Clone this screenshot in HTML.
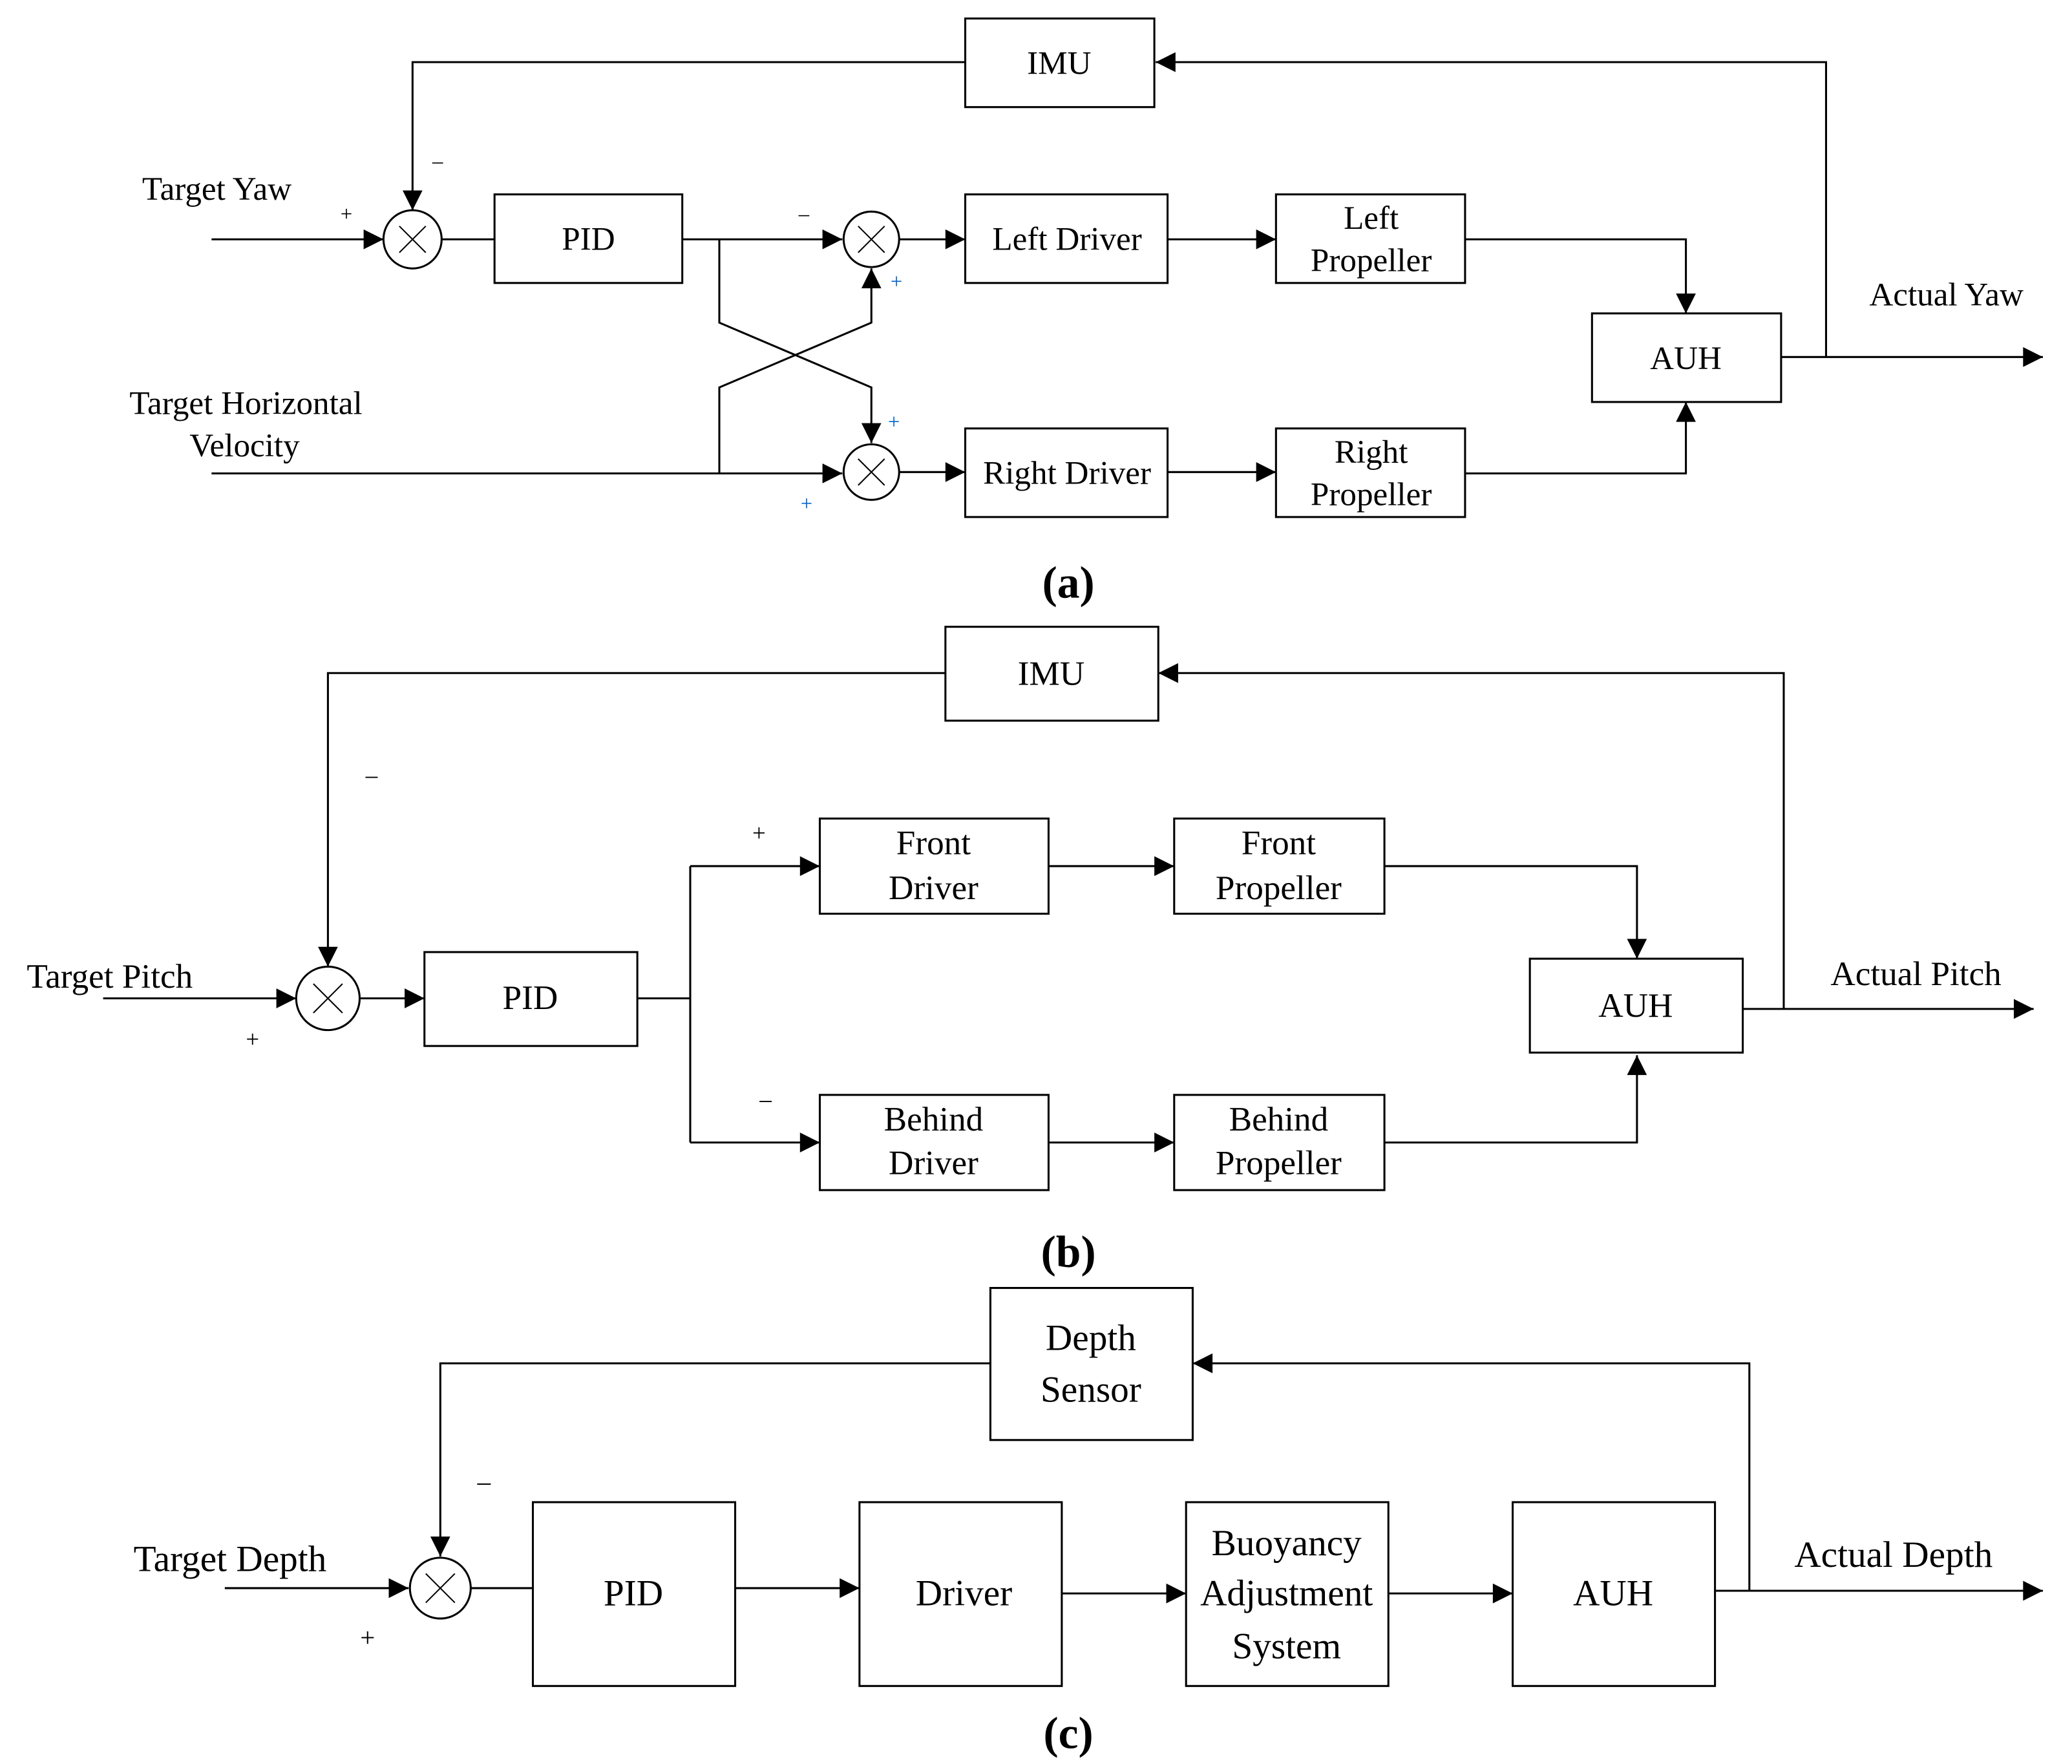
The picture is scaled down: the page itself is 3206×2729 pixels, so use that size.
<!DOCTYPE html>
<html><head><meta charset="utf-8"><style>html,body{margin:0;padding:0;background:#fff}svg{display:block}</style></head><body>
<svg width="3206" height="2729" viewBox="0 0 1567 1334" preserveAspectRatio="none" xmlns="http://www.w3.org/2000/svg" font-family="Liberation Serif, serif">
<defs><marker id="a" viewBox="0 0 10 10" refX="10" refY="5" markerWidth="11" markerHeight="11" markerUnits="userSpaceOnUse" orient="auto"><path d="M0,0L10,5L0,10z" fill="#000"/></marker>
<marker id="b" viewBox="0 0 10 10" refX="10" refY="5" markerWidth="16" markerHeight="15" markerUnits="userSpaceOnUse" orient="auto"><path d="M0,0L10,5L0,10z" fill="#000"/></marker></defs>
<g fill="none" stroke="#000" stroke-width="1.5">
<rect x="730" y="14" width="143" height="67" fill="#fff"/>
<polyline points="730,47 312,47 312,159" marker-end="url(#b)"/>
<polyline points="1381,270 1381,47 874,47" marker-end="url(#b)"/>
<circle cx="312" cy="181" r="22"/>
<line x1="160" y1="181" x2="290" y2="181" marker-end="url(#b)"/>
<line x1="334" y1="181" x2="374" y2="181"/>
<rect x="374" y="147" width="142" height="67"/>
<line x1="516" y1="181" x2="637" y2="181" marker-end="url(#b)"/>
<circle cx="659" cy="181" r="21"/>
<line x1="680" y1="181" x2="730" y2="181" marker-end="url(#b)"/>
<rect x="730" y="147" width="153" height="67"/>
<line x1="883" y1="181" x2="965" y2="181" marker-end="url(#b)"/>
<rect x="965" y="147" width="143" height="67"/>
<polyline points="1108,181 1275,181 1275,237" marker-end="url(#b)"/>
<rect x="1204" y="237" width="143" height="67"/>
<line x1="1347" y1="270" x2="1545" y2="270" marker-end="url(#b)"/>
<polyline points="544,181 544,244 659,293 659,335" marker-end="url(#b)"/>
<polyline points="544,358 544,293 659,244 659,203" marker-end="url(#b)"/>
<line x1="160" y1="358" x2="637" y2="358" marker-end="url(#b)"/>
<circle cx="659" cy="357" r="21"/>
<line x1="680" y1="357" x2="730" y2="357" marker-end="url(#b)"/>
<rect x="730" y="324" width="153" height="67"/>
<line x1="883" y1="357" x2="965" y2="357" marker-end="url(#b)"/>
<rect x="965" y="324" width="143" height="67"/>
<polyline points="1108,358 1275,358 1275,304" marker-end="url(#b)"/>
<path d="M302,171l20,20M322,171l-20,20M649,171l20,20M669,171l-20,20M649,347l20,20M669,347l-20,20" stroke-width="1"/>
<rect x="715" y="474" width="161" height="71"/>
<polyline points="715,509 248,509 248,731" marker-end="url(#b)"/>
<polyline points="1349,763 1349,509 876,509" marker-end="url(#b)"/>
<circle cx="248" cy="755" r="24"/>
<path d="M237,744l22,22M259,744l-22,22" stroke-width="1"/>
<line x1="78" y1="755" x2="224" y2="755" marker-end="url(#b)"/>
<line x1="272" y1="755" x2="321" y2="755" marker-end="url(#b)"/>
<rect x="321" y="720" width="161" height="71"/>
<line x1="482" y1="755" x2="522" y2="755"/>
<polyline points="522,655 522,864"/>
<line x1="522" y1="655" x2="620" y2="655" marker-end="url(#b)"/>
<line x1="522" y1="864" x2="620" y2="864" marker-end="url(#b)"/>
<rect x="620" y="619" width="173" height="72"/>
<line x1="793" y1="655" x2="888" y2="655" marker-end="url(#b)"/>
<rect x="888" y="619" width="159" height="72"/>
<polyline points="1047,655 1238,655 1238,725" marker-end="url(#b)"/>
<rect x="1157" y="725" width="161" height="71"/>
<line x1="1318" y1="763" x2="1538" y2="763" marker-end="url(#b)"/>
<rect x="620" y="828" width="173" height="72"/>
<line x1="793" y1="864" x2="888" y2="864" marker-end="url(#b)"/>
<rect x="888" y="828" width="159" height="72"/>
<polyline points="1047,864 1238,864 1238,798" marker-end="url(#b)"/>
<rect x="749" y="974" width="153" height="115"/>
<polyline points="749,1031 333,1031 333,1177" marker-end="url(#b)"/>
<polyline points="1323,1203 1323,1031 902,1031" marker-end="url(#b)"/>
<circle cx="333" cy="1201" r="23"/>
<path d="M322,1190l22,22M344,1190l-22,22" stroke-width="1"/>
<line x1="170" y1="1201" x2="309" y2="1201" marker-end="url(#b)"/>
<line x1="356" y1="1201" x2="403" y2="1201"/>
<rect x="403" y="1136" width="153" height="139"/>
<line x1="556" y1="1201" x2="650" y2="1201" marker-end="url(#b)"/>
<rect x="650" y="1136" width="153" height="139"/>
<line x1="803" y1="1205" x2="897" y2="1205" marker-end="url(#b)"/>
<rect x="897" y="1136" width="153" height="139"/>
<line x1="1050" y1="1205" x2="1144" y2="1205" marker-end="url(#b)"/>
<rect x="1144" y="1136" width="153" height="139"/>
<line x1="1297" y1="1203" x2="1545" y2="1203" marker-end="url(#b)"/>
</g>
<g font-size="25" fill="#000" text-anchor="middle">
<text x="801" y="56">IMU</text>
<text x="445" y="189">PID</text>
<text x="807" y="189">Left Driver</text>
<text x="1037" y="173">Left</text><text x="1037" y="205">Propeller</text>
<text x="1275" y="279">AUH</text>
<text x="807" y="366">Right Driver</text>
<text x="1037" y="350">Right</text><text x="1037" y="382">Propeller</text>
<text x="164" y="151">Target Yaw</text>
<text x="1472" y="231">Actual Yaw</text>
<text x="186" y="313">Target Horizontal</text><text x="185" y="345">Velocity</text>
<g font-size="16"><text x="262" y="167">+</text><text x="331" y="127">–</text><text x="608" y="167">–</text><text x="678" y="218" fill="#06c">+</text><text x="676" y="324" fill="#06c">+</text><text x="610" y="386" fill="#06c">+</text></g>
<text x="808" y="452" font-size="34" font-weight="bold">(a)</text>
<g font-size="26">
<text x="795" y="518">IMU</text>
<text x="401" y="763">PID</text>
<text x="706" y="646">Front</text><text x="706" y="680">Driver</text>
<text x="967" y="646">Front</text><text x="967" y="680">Propeller</text>
<text x="706" y="855">Behind</text><text x="706" y="888">Driver</text>
<text x="967" y="855">Behind</text><text x="967" y="888">Propeller</text>
<text x="1237" y="769">AUH</text>
<text x="83" y="747">Target Pitch</text>
<text x="1449" y="745">Actual Pitch</text>
</g>
<g font-size="18"><text x="281" y="592">–</text><text x="191" y="792">+</text><text x="574" y="636">+</text><text x="579" y="837">–</text></g>
<text x="808" y="958" font-size="34" font-weight="bold">(b)</text>
<g font-size="28">
<text x="825" y="1021">Depth</text><text x="825" y="1060">Sensor</text>
<text x="479" y="1214">PID</text>
<text x="729" y="1214">Driver</text>
<text x="973" y="1176">Buoyancy</text><text x="973" y="1214">Adjustment</text><text x="973" y="1254">System</text>
<text x="1220" y="1214">AUH</text>
<text x="174" y="1188">Target Depth</text>
<text x="1432" y="1185">Actual Depth</text>
</g>
<g font-size="20"><text x="366" y="1127">–</text><text x="278" y="1245">+</text></g>
<text x="808" y="1322" font-size="34" font-weight="bold">(c)</text>
</g>
</svg>
</body></html>
